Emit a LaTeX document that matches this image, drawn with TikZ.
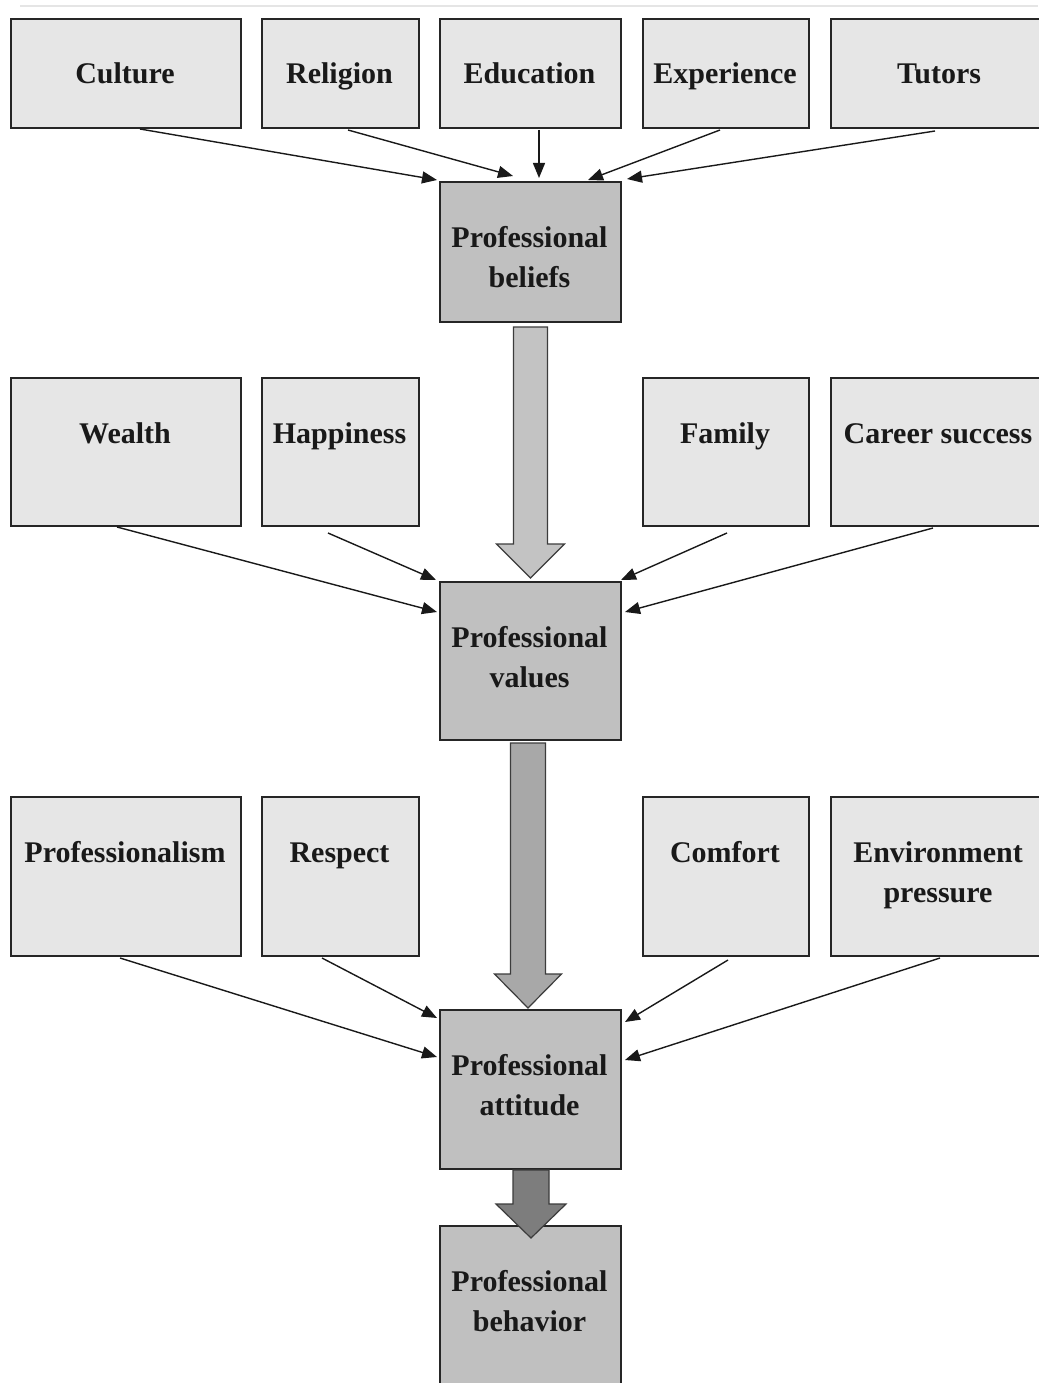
\documentclass[tikz,border=0pt]{standalone}
\usepackage{fontspec}
\setmainfont{Liberation Serif}
\usetikzlibrary{arrows.meta,calc}
\definecolor{smallfill}{HTML}{E6E6E6}
\definecolor{mainfill}{HTML}{C0C0C0}
\definecolor{edge}{HTML}{262626}
\definecolor{bigA}{HTML}{C3C3C3}
\definecolor{bigB}{HTML}{A8A8A8}
\definecolor{bigC}{HTML}{7D7D7D}
\begin{document}
\begin{tikzpicture}[x=1pt,y=-1pt,
  smallbox/.style={draw=edge, line width=2pt, fill=smallfill, anchor=north west, inner sep=0pt},
  mainbox/.style={draw=edge, line width=2pt, fill=mainfill, anchor=north west, inner sep=0pt},
  lbl/.style={font=\bfseries\fontsize{30}{40}\selectfont, text=black!90, align=center, anchor=base, inner sep=0pt},
  conn/.style={draw=black!90, line width=1.4pt, -{Triangle[length=15pt,width=12pt]}},
  bigarrow/.style={draw=edge!90, line width=1.2pt, line join=miter}
]
\useasboundingbox (0,0) rectangle (1038,1383);
\fill[white] (0,0) rectangle (1038,1383);
\draw[black!10, line width=1.5pt] (20,6) -- (1038,6);

% top row
\node[smallbox, minimum width=230pt, minimum height=109pt] (culture) at (10,18) {};
\node[smallbox, minimum width=157pt, minimum height=109pt] (religion) at (261,18) {};
\node[smallbox, minimum width=181pt, minimum height=109pt] (education) at (439,18) {};
\node[smallbox, minimum width=166pt, minimum height=109pt] (experience) at (642,18) {};
\node[smallbox, minimum width=212pt, minimum height=109pt] (tutors) at (830,18) {};
\node[lbl] (tculture) at (125,84) {Culture};
\node[lbl] (treligion) at (339.5,84) {Religion};
\node[lbl] (teducation) at (529.5,84) {Education};
\node[lbl] (texperience) at (725,84) {Experience};
\node[lbl] (ttutors) at (939,84) {Tutors};

% beliefs
\node[mainbox, minimum width=181pt, minimum height=140pt] (beliefs) at (439,181) {};
\node[lbl] (tbeliefs) at (529.5,287) {Professional\\beliefs};

% second row
\node[smallbox, minimum width=230pt, minimum height=148pt] (wealth) at (10,377) {};
\node[smallbox, minimum width=157pt, minimum height=148pt] (happiness) at (261,377) {};
\node[smallbox, minimum width=166pt, minimum height=148pt] (family) at (642,377) {};
\node[smallbox, minimum width=212pt, minimum height=148pt] (career) at (830,377) {};
\node[lbl] (twealth) at (125,443) {Wealth};
\node[lbl] (thappiness) at (339.5,443) {Happiness};
\node[lbl] (tfamily) at (725,443) {Family};
\node[lbl] (tcareer) at (938,443) {Career success};

% values
\node[mainbox, minimum width=181pt, minimum height=158pt] (values) at (439,581) {};
\node[lbl] (tvalues) at (529.5,687) {Professional\\values};

% third row
\node[smallbox, minimum width=230pt, minimum height=159pt] (professionalism) at (10,796) {};
\node[smallbox, minimum width=157pt, minimum height=159pt] (respect) at (261,796) {};
\node[smallbox, minimum width=166pt, minimum height=159pt] (comfort) at (642,796) {};
\node[smallbox, minimum width=212pt, minimum height=159pt] (environment) at (830,796) {};
\node[lbl] (tprofessionalism) at (125,862) {Professionalism};
\node[lbl] (trespect) at (339.5,862) {Respect};
\node[lbl] (tcomfort) at (725,862) {Comfort};
\node[lbl] (tenvironment) at (938,902) {Environment\\pressure};

% attitude and behavior
\node[mainbox, minimum width=181pt, minimum height=159pt] (attitude) at (439,1009) {};
\node[lbl] (tattitude) at (529.5,1115) {Professional\\attitude};
\node[mainbox, minimum width=181pt, minimum height=175pt] (behavior) at (439,1225) {};
\node[lbl] (tbehavior) at (529.5,1331) {Professional\\behavior};

% thin connectors, top
\draw[conn] ($(culture.south west)+(130,0)$) -- ($(beliefs.north west)+(-2,-1)$);
\draw[conn] ($(religion.south west)+(87,1)$) -- ($(beliefs.north west)+(74,-5)$);
\draw[conn] ($(education.south)+(8.5,1)$) -- ($(beliefs.north)+(8.5,-3)$);
\draw[conn] ($(experience.south west)+(78,1)$) -- ($(beliefs.north west)+(149,-1)$);
\draw[conn] ($(tutors.south west)+(105,2)$) -- ($(beliefs.north east)+(5,-2)$);

% thin connectors, middle
\draw[conn] ($(wealth.south west)+(107,0)$) -- ($(values.north west)+(-2,31)$);
\draw[conn] ($(happiness.south west)+(67,6)$) -- ($(values.north west)+(-3,-1)$);
\draw[conn] ($(family.south west)+(85,6)$) -- ($(values.north east)+(-1,-1)$);
\draw[conn] ($(career.south west)+(103,1)$) -- ($(values.north east)+(3,31)$);

% thin connectors, bottom
\draw[conn] ($(professionalism.south west)+(110,1)$) -- ($(attitude.north west)+(-2,48)$);
\draw[conn] ($(respect.south west)+(61,1)$) -- ($(attitude.north west)+(-2,9)$);
\draw[conn] ($(comfort.south west)+(86,3)$) -- ($(attitude.north east)+(3,13)$);
\draw[conn] ($(environment.south west)+(110,1)$) -- ($(attitude.north east)+(3,51)$);

% big arrows
\begin{scope}[shift={(beliefs.south)}]
\draw[bigarrow, fill=bigA] (-17,4) -- (-17,221) -- (-34,221) -- (0,255) -- (34,221) -- (17,221) -- (17,4) -- cycle;
\end{scope}
\begin{scope}[shift={(values.south)}]
\draw[bigarrow, fill=bigB] (-20,2) -- (-20,233) -- (-36,233) -- (-2.5,267) -- (31,233) -- (15,233) -- (15,2) -- cycle;
\end{scope}
\begin{scope}[shift={(attitude.south)}]
\draw[bigarrow, fill=bigC] (-17.5,0) -- (-17.5,34) -- (-34.5,34) -- (0.5,68) -- (35.5,34) -- (18.5,34) -- (18.5,0) -- cycle;
\end{scope}
\end{tikzpicture}
\end{document}
